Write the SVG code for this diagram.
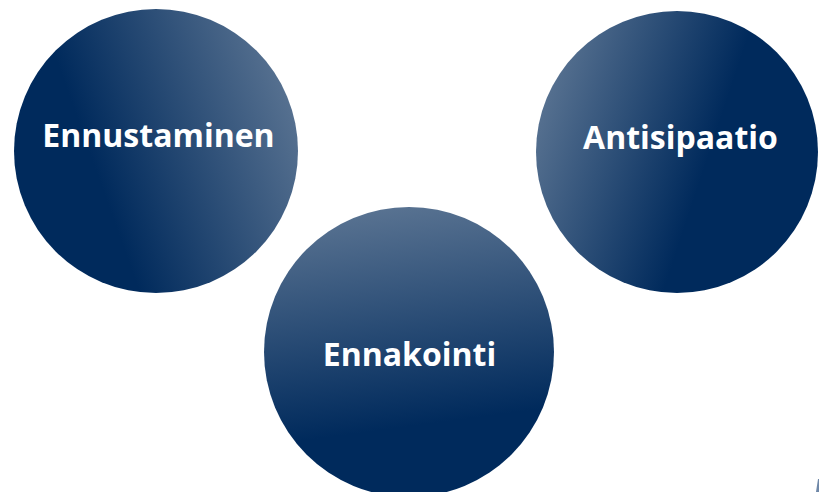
<svg xmlns="http://www.w3.org/2000/svg" width="819" height="492" viewBox="0 0 819 492">
  <style>
    .lbl { font-family: "Open Sans", "Noto Sans", "Liberation Sans", sans-serif; font-weight: 700; font-size: 32px; fill: #ffffff; text-anchor: middle; }
  </style>
  <defs>
    <linearGradient id="g1" x1="0.3" y1="0.6" x2="1" y2="0.35">
      <stop offset="0" stop-color="#002a5c"/>
      <stop offset="1" stop-color="#587291"/>
    </linearGradient>
    <linearGradient id="g2" x1="0" y1="0.35" x2="0.6" y2="0.55">
      <stop offset="0" stop-color="#587291"/>
      <stop offset="1" stop-color="#002a5c"/>
    </linearGradient>
    <linearGradient id="g3" x1="0.45" y1="0" x2="0.55" y2="0.75">
      <stop offset="0" stop-color="#587291"/>
      <stop offset="1" stop-color="#002a5c"/>
    </linearGradient>
  </defs>
  <rect width="819" height="492" fill="#ffffff"/>
  <g id="connectors"></g>
  <g id="node-ennustaminen">
    <circle cx="156" cy="151" r="142" fill="url(#g1)"/>
    <text class="lbl" x="158.5" y="147">Ennustaminen</text>
  </g>
  <g id="node-antisipaatio">
    <circle cx="677" cy="152" r="141" fill="url(#g2)"/>
    <text class="lbl" x="680.5" y="149">Antisipaatio</text>
  </g>
  <g id="node-ennakointi">
    <circle cx="409" cy="352" r="145" fill="url(#g3)"/>
    <text class="lbl" x="409.5" y="366">Ennakointi</text>
  </g>
  <polygon points="816,492 818,479 819,479 819,492" fill="#6f88a8"/>
</svg>
